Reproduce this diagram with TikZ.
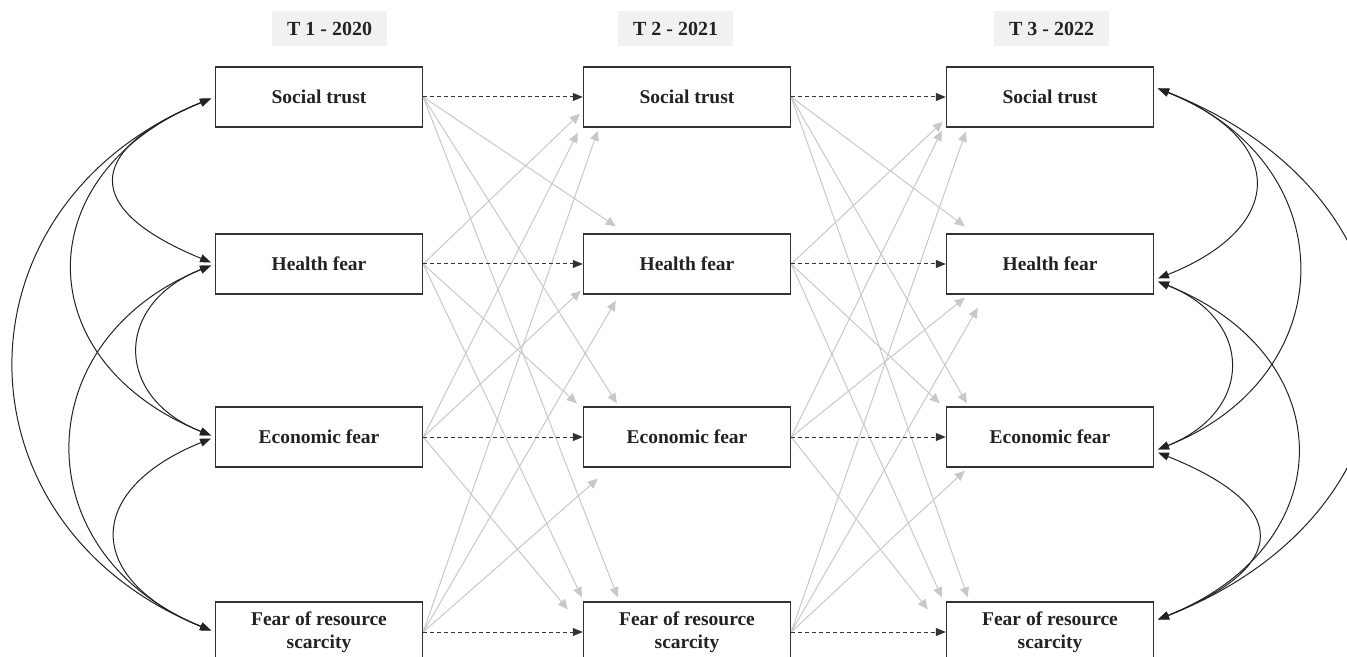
\documentclass[tikz,border=0pt]{standalone}
\usepackage{fontspec}
\setmainfont{Liberation Serif}
\usetikzlibrary{arrows.meta}
\definecolor{boxline}{HTML}{333333}
\definecolor{txt}{HTML}{222222}
\definecolor{lagline}{HTML}{C8C8C8}
\definecolor{titlefill}{HTML}{F0F1F3}

\begin{document}
\begin{tikzpicture}[x=0.5pt,y=-0.5pt,
    varbox/.style={draw=boxline,line width=0.7pt,minimum width=103.5pt,minimum height=30pt,inner sep=1pt,align=center,font=\bfseries\fontsize{9.75}{11.5}\selectfont,text=txt},
    wavebox/.style={fill=titlefill,minimum width=57.5pt,minimum height=17.5pt,font=\bfseries\fontsize{10}{12}\selectfont,text=txt},
    stabarrow/.style={draw=boxline,line width=0.5pt,dash pattern=on 2pt off 1.5pt,-{Triangle[length=5pt,width=4pt]}},
    lagarrow/.style={draw=lagline,line width=0.5pt,-{Triangle[length=5pt,width=4.5pt]}},
    covarrow/.style={draw=txt,line width=0.5pt,{Triangle[length=5.5pt,width=4pt]}-{Triangle[length=5.5pt,width=4pt]},shorten <=2pt,shorten >=2pt}]
    \clip (0,0) rectangle (1347,657);

    % waves
    \node[wavebox] (w1) at (329.5,28.5) {T 1 - 2020};
    \node[wavebox] (w2) at (675.5,28.5) {T 2 - 2021};
    \node[wavebox] (w3) at (1051.5,29) {T 3 - 2022};

    % variables
    \node[varbox] (st1) at (319,97) {Social trust};
    \node[varbox] (hf1) at (319,264) {Health fear};
    \node[varbox] (ef1) at (319,437) {Economic fear};
    \node[varbox] (fr1) at (319,632) {Fear of resource\\scarcity};
    \node[varbox] (st2) at (687,97) {Social trust};
    \node[varbox] (hf2) at (687,264) {Health fear};
    \node[varbox] (ef2) at (687,437) {Economic fear};
    \node[varbox] (fr2) at (687,632) {Fear of resource\\scarcity};
    \node[varbox] (st3) at (1050,97) {Social trust};
    \node[varbox] (hf3) at (1050,264) {Health fear};
    \node[varbox] (ef3) at (1050,437) {Economic fear};
    \node[varbox] (fr3) at (1050,632) {Fear of resource\\scarcity};

    % cross-lagged paths T1 -> T2
    \draw[lagarrow] (hf1.east) -- ([shift={(-3,-14)}]st2.south west);
    \draw[lagarrow] (ef1.east) -- ([shift={(-5,5)}]st2.south west);
    \draw[lagarrow] (fr1.east) -- ([shift={(15,3)}]st2.south west);
    \draw[lagarrow] (st1.east) -- ([shift={(33,-7)}]hf2.north west);
    \draw[lagarrow] (ef1.east) -- ([shift={(-2,-4)}]hf2.south west);
    \draw[lagarrow] (fr1.east) -- ([shift={(33,6)}]hf2.south west);
    \draw[lagarrow] (hf1.east) -- ([shift={(-6,-3)}]ef2.north west);
    \draw[lagarrow] (st1.east) -- ([shift={(34,-3)}]ef2.north west);
    \draw[lagarrow] (fr1.east) -- ([shift={(15,11)}]ef2.south west);
    \draw[lagarrow] (ef1.east) -- ([shift={(-15,8)}]fr2.north west);
    \draw[lagarrow] (hf1.east) -- ([shift={(-1,-4)}]fr2.north west);
    \draw[lagarrow] (st1.east) -- ([shift={(35,-4)}]fr2.north west);

    % cross-lagged paths T2 -> T3
    \draw[lagarrow] (hf2.east) -- ([shift={(-3,-6)}]st3.south west);
    \draw[lagarrow] (ef2.east) -- ([shift={(-4,3)}]st3.south west);
    \draw[lagarrow] (fr2.east) -- ([shift={(20,4)}]st3.south west);
    \draw[lagarrow] (st2.east) -- ([shift={(19,-7)}]hf3.north west);
    \draw[lagarrow] (ef2.east) -- ([shift={(19,3)}]hf3.south west);
    \draw[lagarrow] (fr2.east) -- ([shift={(32,13)}]hf3.south west);
    \draw[lagarrow] (hf2.east) -- ([shift={(-6,-3)}]ef3.north west);
    \draw[lagarrow] (st2.east) -- ([shift={(21,-3)}]ef3.north west);
    \draw[lagarrow] (fr2.east) -- ([shift={(19,3)}]ef3.south west);
    \draw[lagarrow] (ef2.east) -- ([shift={(-18,8)}]fr3.north west);
    \draw[lagarrow] (hf2.east) -- ([shift={(-4,-4)}]fr3.north west);
    \draw[lagarrow] (st2.east) -- ([shift={(22,-4)}]fr3.north west);

    % stability paths
    \draw[stabarrow] (st1.east) -- (st2.west);
    \draw[stabarrow] (hf1.east) -- (hf2.west);
    \draw[stabarrow] (ef1.east) -- (ef2.west);
    \draw[stabarrow] (fr1.east) -- (fr2.west);
    \draw[stabarrow] (st2.east) -- (st3.west);
    \draw[stabarrow] (hf2.east) -- (hf3.west);
    \draw[stabarrow] (ef2.east) -- (ef3.west);
    \draw[stabarrow] (fr2.east) -- (fr3.west);

    % covariances T1
    \draw[covarrow] (st1.west) .. controls +(-132,54) and +(-132,-54) .. (hf1.west);
    \draw[covarrow] (st1.west) .. controls +(-188,76) and +(-188,-76) .. (ef1.west);
    \draw[covarrow] (st1.west) .. controls +(-266,108) and +(-266,-108) .. (fr1.west);
    \draw[covarrow] (hf1.west) .. controls +(-101,40) and +(-101,-40) .. (ef1.west);
    \draw[covarrow] (hf1.west) .. controls +(-190,77) and +(-190,-77) .. (fr1.west);
    \draw[covarrow] (ef1.west) .. controls +(-131,53) and +(-131,-53) .. (fr1.west);

    % covariances T3
    \coordinate (st3r) at ([shift={(0,-10)}]st3.east);
    \coordinate (hf3r) at ([shift={(0,16)}]hf3.east);
    \coordinate (ef3r) at ([shift={(0,14)}]ef3.east);
    \coordinate (fr3r) at ([shift={(0,-11)}]fr3.east);
    \draw[covarrow] (st3r) .. controls +(133,53) and +(133,-53) .. (hf3r);
    \draw[covarrow] (st3r) .. controls +(191,76) and +(191,-76) .. (ef3r);
    \draw[covarrow] (st3r) .. controls +(292,115) and +(292,-115) .. (fr3r);
    \draw[covarrow] (hf3r) .. controls +(100,40) and +(100,-40) .. (ef3r);
    \draw[covarrow] (hf3r) .. controls +(189,76) and +(189,-76) .. (fr3r);
    \draw[covarrow] (ef3r) .. controls +(137,55) and +(137,-55) .. (fr3r);
\end{tikzpicture}
\end{document}
